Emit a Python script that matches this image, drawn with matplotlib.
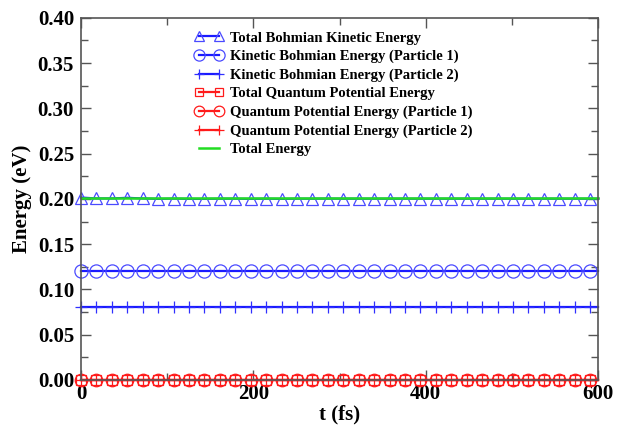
import numpy as np
import matplotlib
matplotlib.use("Agg")
import matplotlib.pyplot as plt
from matplotlib.ticker import MultipleLocator

plt.rcParams["font.family"] = ["Liberation Serif", "DejaVu Serif"]
plt.rcParams["font.weight"] = "bold"

# sampled times (fs); the final entry closes the curves at the end of the run
t_fs = [0.0, 17.9, 35.8, 53.7, 71.6, 89.5, 107.4, 125.3, 143.2, 161.1,
        179.0, 196.9, 214.8, 232.7, 250.6, 268.5, 286.4, 304.3, 322.2, 340.1,
        358.0, 375.9, 393.8, 411.7, 429.6, 447.5, 465.4, 483.3, 501.2, 519.1,
        537.0, 554.9, 572.8, 590.7, 600.0]

total_bohm_ke = [0.2015, 0.2005, 0.2005, 0.2012, 0.2005, 0.2000, 0.2003, 0.2000,
                 0.2000, 0.2002, 0.2002, 0.2000, 0.2002, 0.2000, 0.2002, 0.2002,
                 0.2003, 0.2002, 0.2002, 0.2002, 0.2002, 0.2002, 0.2002, 0.2002,
                 0.2002, 0.2002, 0.2002, 0.2002, 0.2002, 0.2002, 0.2002, 0.2002,
                 0.2002, 0.2002, 0.2002]
ke_p1 = [0.1200] * 35
ke_p2 = [0.0805] * 35
total_qp = [0.0] * 35
qp_p1 = [0.0] * 35
qp_p2 = [0.0] * 35
total_energy = [0.2015] * 35

labels = ["Total Bohmian Kinetic Energy",
          "Kinetic Bohmian Energy (Particle 1)",
          "Kinetic Bohmian Energy (Particle 2)",
          "Total Quantum Potential Energy",
          "Quantum Potential Energy (Particle 1)",
          "Quantum Potential Energy (Particle 2)",
          "Total Energy"]

BLUE = "#1a1aff"
RED = "#ff1a1a"
GREEN = "#22dd22"

fig = plt.figure(figsize=(6.18, 4.25), dpi=100)
ax = fig.add_axes([0.131, 0.106, 0.837, 0.852])

marks = slice(0, 34)
common = dict(markevery=marks, markerfacecolor="none", markeredgewidth=0.9,
              clip_on=False)

ax.plot(t_fs, total_bohm_ke, color=BLUE, lw=1.6, marker="^", ms=8,
        markeredgecolor="#4a4aff", label=labels[0], **common)
ax.plot(t_fs, ke_p1, color=BLUE, lw=1.6, marker="o", ms=9.5,
        markeredgecolor="#4a4aff", label=labels[1], **common)
ax.plot(t_fs, ke_p2, color=BLUE, lw=1.6, marker="+", ms=9,
        markeredgecolor="#3030ff", label=labels[2], **common)
ax.plot(t_fs, total_qp, color=RED, lw=1.6, marker="s", ms=7,
        markeredgecolor=RED, label=labels[3], **common)
ax.plot(t_fs, qp_p1, color=RED, lw=1.6, marker="o", ms=9,
        markeredgecolor=RED, label=labels[4], **common)
ax.plot(t_fs, qp_p2, color=RED, lw=1.6, marker="+", ms=9,
        markeredgecolor=RED, label=labels[5], **common)
ax.plot(t_fs, total_energy, color=GREEN, lw=1.8, label=labels[6],
        clip_on=False)

ax.set_xlim(0, 600)
ax.set_ylim(0, 0.40)
ax.xaxis.set_major_locator(MultipleLocator(200))
ax.xaxis.set_minor_locator(MultipleLocator(100))
ax.yaxis.set_major_locator(MultipleLocator(0.05))
ax.yaxis.set_minor_locator(MultipleLocator(0.025))
ax.yaxis.set_major_formatter(matplotlib.ticker.FormatStrFormatter("%.2f"))

for s in ax.spines.values():
    s.set_color("#555555")
    s.set_linewidth(1.2)
    s.set_zorder(5)

ax.tick_params(which="both", direction="in", top=True, right=True,
               colors="#555555", labelcolor="black", labelsize=15)
ax.tick_params(which="major", length=7, width=1.0)
ax.tick_params(axis="y", which="major", pad=5)
ax.tick_params(axis="x", which="major", pad=3)
ax.tick_params(which="minor", length=5, width=1.0)

ax.set_xlabel("t (fs)", fontsize=15, fontweight="bold", labelpad=0)
ax.set_ylabel("Energy (eV)", fontsize=15, fontweight="bold", labelpad=4)

leg = ax.legend(loc="upper left", bbox_to_anchor=(0.205, 0.983),
                frameon=False, numpoints=2, handlelength=2.0,
                handletextpad=0.45, labelspacing=0.36, borderpad=0,
                markerscale=0.85,
                prop={"size": 10.5, "weight": "bold"})

fig.savefig("out.png", dpi=100)
